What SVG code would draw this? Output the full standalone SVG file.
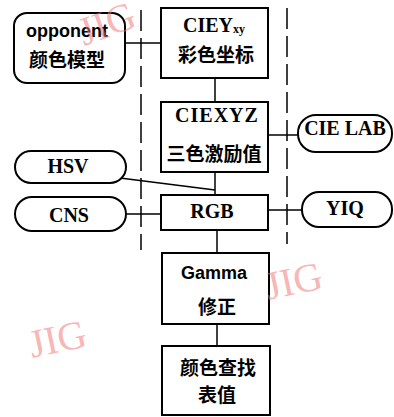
<svg xmlns="http://www.w3.org/2000/svg" width="394" height="417" viewBox="0 0 394 417">
<style>
.box{fill:#fff;stroke:#000;stroke-width:2}
.ln{fill:none;stroke:#000;stroke-width:1.5}
.dash{fill:none;stroke:#000;stroke-width:1.5;stroke-dasharray:21 7}
.t{font-family:"Liberation Serif","Noto Sans CJK SC",serif;font-weight:bold;font-size:20px;text-anchor:middle;fill:#000}
.s{font-family:"Liberation Sans","Noto Sans CJK SC",sans-serif;font-weight:bold;font-size:18px;text-anchor:middle;fill:#000}
.c{font-family:"Noto Sans CJK SC",sans-serif;font-weight:bold;font-size:19px;text-anchor:middle;fill:#000}
.wm{font-family:"Liberation Serif",serif;font-size:40px;fill:#f07878;fill-opacity:0.55}
</style>
<rect width="394" height="417" fill="#fff"/>
<g id="connectors">
<line class="dash" x1="141" y1="10" x2="141" y2="250"/>
<line class="dash" x1="287" y1="8" x2="287" y2="244"/>
<line class="ln" x1="125" y1="43" x2="161" y2="43"/>
<line class="ln" x1="215" y1="78" x2="215" y2="102"/>
<line class="ln" x1="268" y1="135" x2="298" y2="135"/>
<line class="ln" x1="215" y1="172" x2="215" y2="195"/>
<line class="ln" x1="120" y1="178" x2="215" y2="190"/>
<line class="ln" x1="126" y1="214" x2="161" y2="214"/>
<line class="ln" x1="268" y1="210" x2="302" y2="210"/>
<line class="ln" x1="217" y1="230" x2="217" y2="253"/>
<line class="ln" x1="217" y1="324" x2="217" y2="346"/>
</g>
<g id="opponent">
<rect class="box" x="14" y="13" width="111" height="70" rx="13"/>
<text class="s" x="67" y="37">opponent</text>
<text class="c" x="67" y="67">颜色模型</text>
</g>
<g id="cieyxy">
<rect class="box" x="161" y="8" width="107" height="70"/>
<text class="t" x="214" y="32">CIEY<tspan font-size="12" dy="1">xy</tspan></text>
<text class="c" x="216" y="62">彩色坐标</text>
</g>
<g id="ciexyz">
<rect class="box" x="161" y="102" width="107" height="70"/>
<text class="t" x="217" y="122" letter-spacing="1">CIEXYZ</text>
<text class="c" x="214" y="161">三色激励值</text>
</g>
<g id="cielab">
<rect class="box" x="298" y="115" width="94" height="37" rx="18"/>
<text class="t" x="345" y="135">CIE LAB</text>
</g>
<g id="hsv">
<rect class="box" x="15" y="151" width="111" height="32" rx="16"/>
<text class="t" x="68" y="173">HSV</text>
</g>
<g id="cns">
<rect class="box" x="15" y="197" width="111" height="34" rx="17"/>
<text class="t" x="69" y="222">CNS</text>
</g>
<g id="rgb">
<rect class="box" x="161" y="195" width="107" height="35"/>
<text class="t" x="212" y="218">RGB</text>
</g>
<g id="yiq">
<rect class="box" x="302" y="192" width="90" height="35" rx="17"/>
<text class="t" x="345" y="215">YIQ</text>
</g>
<g id="gamma">
<rect class="box" x="162" y="253" width="107" height="71"/>
<text class="s" x="214" y="279">Gamma</text>
<text class="c" x="217" y="314">修正</text>
</g>
<g id="lookup">
<rect class="box" x="162" y="346" width="108" height="69"/>
<text class="c" x="218" y="375">颜色查找</text>
<text class="c" x="217" y="402">表值</text>
</g>
<g id="watermarks">
<text class="wm" font-size="34" transform="translate(84,46) rotate(-20)">JIG</text>
<text class="wm" transform="translate(268,300) rotate(-12)">JIG</text>
<text class="wm" transform="translate(32,358) rotate(-12)">JIG</text>
</g>
</svg>
